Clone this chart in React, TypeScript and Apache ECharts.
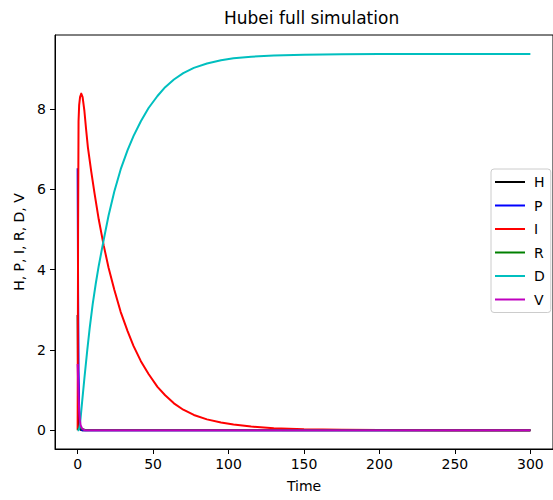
import React, { useEffect, useRef } from "react";
import * as echarts from "echarts";

const titleText = "Hubei full simulation";
const xName = "Time";
const yName = "H, P, I, R, D, V";
const seriesNames = ["H", "P", "I", "R", "D", "V"];
const seriesColors = ["#000000", "#0000ff", "#ff0000", "#008000", "#00bfbf", "#bf00bf"];
const xTicks = [0, 50, 100, 150, 200, 250, 300];
const yTicks = [0, 2, 4, 6, 8];

// H
const hT = [0, 0.25, 0.5, 1, 2, 3, 300];
const hV = [2.87, 1.5, 0.6, 0.1, 0.01, 0, 0];
// P
const pT = [0, 0.3, 0.6, 1, 1.5, 2, 3, 300];
const pV = [6.53, 3.5, 1.5, 0.5, 0.15, 0.05, 0, 0];
// I
const iT = [0, 0.3, 0.6, 1, 1.6, 2.4, 3.3, 4.5, 5.6, 6.8, 9, 11.2, 14, 17.3, 20.5, 24.3, 28.5, 33.1, 37, 41.9, 47, 52.9, 58, 63.8, 70, 77, 85.7, 95, 103.3, 115, 130, 150, 175, 200, 250, 300];
const iV = [0, 5, 7.7, 8.1, 8.3, 8.39, 8.3, 7.95, 7.5, 7.05, 6.45, 5.9, 5.25, 4.6, 4.05, 3.5, 2.95, 2.47, 2.1, 1.72, 1.4, 1.08, 0.87, 0.67, 0.51, 0.38, 0.27, 0.19, 0.14, 0.09, 0.05, 0.022, 0.008, 0.003, 0.0005, 0.0001];
// R
const rT = [0, 1, 2, 3, 5, 300];
const rV = [0, 0.05, 0.06, 0.03, 0.005, 0];
// D
const dT = [0, 0.5, 1.3, 2, 3, 4.5, 6.4, 8, 10, 12, 14, 17.3, 20.5, 24.3, 28.5, 33.1, 37, 41.9, 47, 52.9, 58, 63.8, 70, 77, 85.7, 95, 103.3, 115, 130, 150, 175, 200, 250, 300];
const dV = [0, 0.0, 0.06, 0.32, 0.72, 1.3, 2.0, 2.55, 3.15, 3.65, 4.1, 4.75, 5.35, 5.95, 6.5, 6.98, 7.33, 7.7, 8.03, 8.33, 8.55, 8.74, 8.9, 9.03, 9.14, 9.22, 9.27, 9.31, 9.34, 9.36, 9.37, 9.375, 9.375, 9.375];
// V
const vT = [0, 0.5, 1, 1.5, 2, 3, 4, 5, 300];
const vV = [1.65, 1.0, 0.5, 0.25, 0.12, 0.04, 0.01, 0, 0];

const allT = [hT, pT, iT, rT, dT, vT];
const allV = [hV, pV, iV, rV, dV, vV];

const FONT = "DejaVu Sans";

export default function App() {
  const ref = useRef<HTMLDivElement>(null);
  useEffect(() => {
    if (!ref.current) return;
    const chart = echarts.init(ref.current, null, { renderer: "svg" });
    const series = seriesNames.map((name, k) => ({
      name,
      type: "line",
      data: allT[k].map((t, j) => [t, allV[k][j]]),
      showSymbol: false,
      symbol: "none",
      smooth: false,
      lineStyle: { color: seriesColors[k], width: 2, join: "round" },
      itemStyle: { color: seriesColors[k] },
      z: 2 + k,
    }));
    chart.setOption({
      animation: false,
      backgroundColor: "#ffffff",
      textStyle: { fontFamily: FONT },
      title: {
        text: titleText,
        left: 219,
        top: 4,
        textStyle: { fontFamily: FONT, fontSize: 17, fontWeight: "normal", color: "#000" },
      },
      grid: {
        left: 55,
        top: 35,
        width: 502,
        height: 414,
        show: true,
        borderColor: "#000",
        borderWidth: 1,
        containLabel: false,
      },
      legend: {
        orient: "vertical",
        left: 491,
        top: 169,
        data: seriesNames,
        icon: "rect",
        itemWidth: 30,
        itemHeight: 2,
        itemGap: 9.5,
        padding: [6, 6, 6, 4],
        borderColor: "#cccccc",
        borderWidth: 1,
        borderRadius: 3,
        backgroundColor: "#ffffff",
        textStyle: { fontFamily: FONT, fontSize: 14, color: "#000", padding: [0, 0, 0, 4] },
      },
      xAxis: {
        type: "value",
        min: -15,
        max: 315,
        name: xName,
        nameLocation: "middle",
        nameGap: 30,
        nameTextStyle: { fontFamily: FONT, fontSize: 14, color: "#000" },
        axisLine: { show: true, onZero: false, lineStyle: { color: "#000", width: 1 } },
        axisTick: { show: true, length: 5, customValues: xTicks, lineStyle: { color: "#000" } },
        axisLabel: { customValues: xTicks, fontFamily: FONT, fontSize: 14, color: "#000", margin: 8 },
        splitLine: { show: false },
      },
      yAxis: {
        type: "value",
        min: -0.469,
        max: 9.85,
        name: yName,
        nameLocation: "middle",
        nameRotate: 90,
        nameGap: 27,
        nameTextStyle: { fontFamily: FONT, fontSize: 14, color: "#000" },
        axisLine: { show: true, onZero: false, lineStyle: { color: "#000", width: 1 } },
        axisTick: { show: true, length: 5, customValues: yTicks, lineStyle: { color: "#000" } },
        axisLabel: { customValues: yTicks, fontFamily: FONT, fontSize: 14, color: "#000", margin: 9 },
        splitLine: { show: false },
      },
      series,
    });
    return () => chart.dispose();
  }, []);
  return (
    <div
      ref={ref}
      style={{ position: "fixed", left: 0, top: 0, width: 553, height: 500, background: "#fff" }}
    />
  );
}
